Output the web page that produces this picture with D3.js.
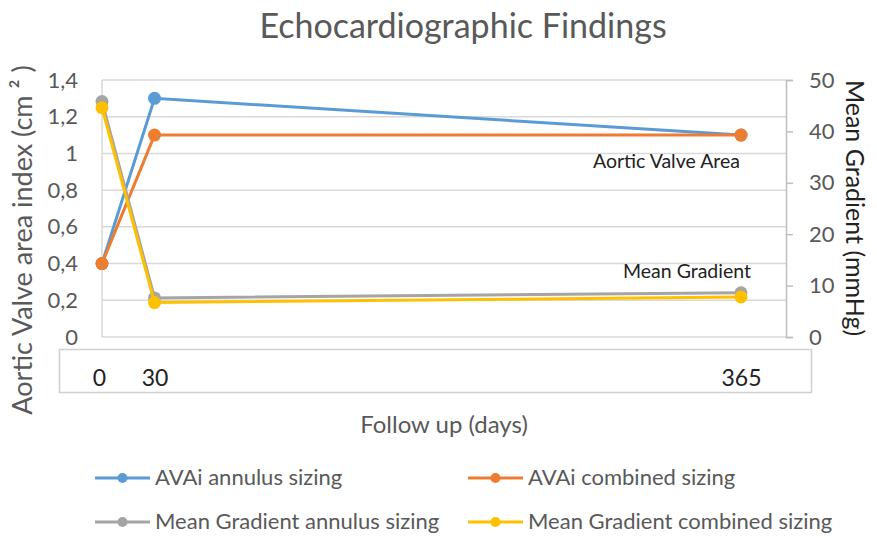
<!DOCTYPE html>
<html>
<head>
<meta charset="utf-8">
<script src="https://cdn.jsdelivr.net/npm/d3@7"></script>
<style>
  body { margin: 0; background: #fff; }
  text { font-family: Lato, "Open Sans", sans-serif; }
</style>
</head>
<body>
<svg width="877" height="538"></svg>
<script>
var days = [0, 30, 365];
var avaiAnnulus = [0.4, 1.3, 1.1];
var avaiCombined = [0.4, 1.1, 1.1];
var mgAnnulus = [45.8, 7.6, 8.6];
var mgCombined = [44.6, 6.7, 7.8];
var leftTicks = [0, 0.2, 0.4, 0.6, 0.8, 1, 1.2, 1.4];
var rightTicks = [0, 10, 20, 30, 40, 50];

var svg = d3.select("svg");
var x = d3.scaleLinear().domain([0, 365]).range([102, 741]);
var yL = d3.scaleLinear().domain([0, 1.4]).range([337, 80]);
var yR = d3.scaleLinear().domain([0, 50]).range([337, 80]);
var gray = "#595959";

svg.append("text").attr("x", 463).attr("y", 38).attr("text-anchor", "middle")
  .attr("font-size", 34).attr("fill", gray).text("Echocardiographic Findings");

// gridlines
svg.selectAll(".grid").data(leftTicks).enter().append("line")
  .attr("x1", 102).attr("x2", 786)
  .attr("y1", function(d) { return yL(d) }).attr("y2", function(d) { return yL(d) })
  .attr("stroke", "#d9d9d9").attr("stroke-width", 1.5);
svg.append("line").attr("x1", 102).attr("x2", 102).attr("y1", 80).attr("y2", 337)
  .attr("stroke", "#d9d9d9").attr("stroke-width", 1.5);

// left axis
var gl = svg.append("g").attr("transform", "translate(102,0)")
  .call(d3.axisLeft(yL).tickValues(leftTicks).tickSize(0).tickPadding(24)
    .tickFormat(function(d) { return String(d).replace(".", ",") }));
gl.select(".domain").remove();
gl.selectAll("text").attr("font-size", 22).attr("fill", gray).attr("font-family", "Lato, sans-serif");

// right axis
var gr = svg.append("g").attr("transform", "translate(786,0)")
  .call(d3.axisRight(yR).tickValues(rightTicks).tickSize(7).tickPadding(16));
gr.select(".domain").attr("stroke", "#bfbfbf").attr("stroke-width", 1.5);
gr.selectAll("line").attr("stroke", "#bfbfbf").attr("stroke-width", 1.5);
gr.selectAll("text").attr("font-size", 22).attr("fill", gray).attr("font-family", "Lato, sans-serif");

// x axis box
svg.append("rect").attr("x", 59.5).attr("y", 349.5).attr("width", 752).attr("height", 43)
  .attr("fill", "none").attr("stroke", "#d0d0d0").attr("stroke-width", 1.5);
var gx = svg.append("g").attr("transform", "translate(0,386)")
  .call(d3.axisBottom(x).tickValues(days).tickSize(0).tickPadding(0));
gx.select(".domain").remove();
gx.selectAll("text").attr("font-size", 23).attr("fill", "#222").attr("dy", 0)
  .attr("font-family", "Lato, sans-serif");
gx.selectAll("text").filter(function(d) { return d === 0 }).attr("dx", -3);

svg.append("text").attr("x", 444).attr("y", 433).attr("text-anchor", "middle")
  .attr("font-size", 24).attr("fill", gray).text("Follow up (days)");

svg.append("text").attr("transform", "translate(32,240) rotate(-90)").attr("text-anchor", "middle")
  .attr("font-size", 27).attr("fill", gray).text("Aortic Valve area index (cm ² )");
svg.append("text").attr("transform", "translate(846,208) rotate(90)").attr("text-anchor", "middle")
  .attr("font-size", 25).attr("fill", "#222").text("Mean Gradient (mmHg)");

var series = [
  { name: "AVAi annulus sizing", vals: avaiAnnulus, y: yL, color: "#5b9bd5" },
  { name: "AVAi combined sizing", vals: avaiCombined, y: yL, color: "#ed7d31" },
  { name: "Mean Gradient annulus sizing", vals: mgAnnulus, y: yR, color: "#a5a5a5" },
  { name: "Mean Gradient combined sizing", vals: mgCombined, y: yR, color: "#ffc000" }
];

series.forEach(function(s) {
  var line = d3.line().x(function(d, i) { return x(days[i]) }).y(function(d) { return s.y(d) });
  svg.append("path").datum(s.vals).attr("d", line).attr("fill", "none")
    .attr("stroke", s.color).attr("stroke-width", 3);
  svg.selectAll(null).data(s.vals).enter().append("circle")
    .attr("cx", function(d, i) { return x(days[i]) }).attr("cy", function(d) { return s.y(d) })
    .attr("r", 6.5).attr("fill", s.color);
});

svg.append("text").attr("x", 740).attr("y", 168).attr("text-anchor", "end")
  .attr("font-size", 19.5).attr("fill", "#222").text("Aortic Valve Area");
svg.append("text").attr("x", 751).attr("y", 278).attr("text-anchor", "end")
  .attr("font-size", 19.5).attr("fill", "#222").text("Mean Gradient");

// legend
var legendPos = [[95, 478], [468, 478], [95, 522], [468, 522]];
series.forEach(function(s, i) {
  var p = legendPos[i];
  var g = svg.append("g").attr("transform", "translate(" + p[0] + "," + p[1] + ")");
  g.append("line").attr("x1", 0).attr("x2", 55).attr("stroke", s.color).attr("stroke-width", 3);
  g.append("circle").attr("cx", 27.5).attr("r", 5).attr("fill", s.color);
  g.append("text").attr("x", 60).attr("y", 7).attr("font-size", 22).attr("fill", gray).text(s.name);
});
</script>
</body>
</html>
